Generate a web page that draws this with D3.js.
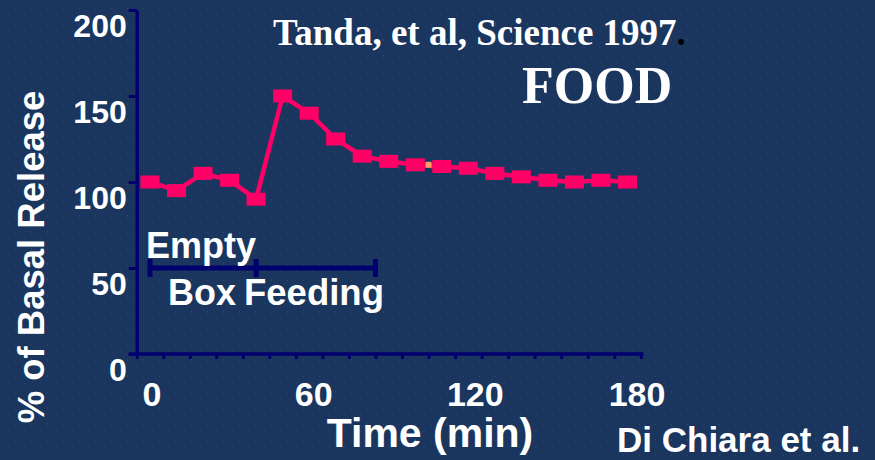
<!DOCTYPE html>
<meta charset="utf-8">
<head>
	<title>Tanda FOOD</title>
	<script src="https://cdnjs.cloudflare.com/ajax/libs/d3/7.8.5/d3.min.js"></script>
</head>
<style type="text/css">
	body { margin: 0; background: #1a365e; }
	svg { display: block; }
	.lbl { font-family: "Liberation Sans", Arial, sans-serif; font-weight: bold; fill: #fff; }
	.ser { font-family: "Liberation Serif", "Times New Roman", serif; font-weight: bold; fill: #fff; }
</style>
<body>
<script>
	// data (minutes, % of basal release)
	var times = [0, 10, 20, 30, 40, 50, 60, 70, 80, 90, 100, 110, 120, 130, 140, 150, 160, 170, 180];
	var release = [100, 95, 105, 101, 90, 150, 140, 125, 115, 112, 110, 109, 108, 105, 103, 101, 100, 101, 100];
	var yTicks = [0, 50, 100, 150, 200];
	var xLabels = [0, 60, 120, 180];
	var xMinor = d3.range(-5, 186, 10);
	// bracket under curve: empty box 0-40, feeding 40-85
	var bracketStops = [0, 40, 85];
	var bracketLevel = 50;
	// stray orange mark on the slide
	var strayPoint = [{t: 105, v: 110}];

	var width = 875, height = 460;
	var axisCol = "#00006e", pink = "#ff0066";

	var svg = d3.select("body").append("svg")
		.attr("width", width)
		.attr("height", height);

	// dotted slide background
	var pat = svg.append("defs").append("pattern")
		.attr("id", "dots")
		.attr("patternUnits", "userSpaceOnUse")
		.attr("width", 16).attr("height", 16);
	pat.append("rect").attr("width", 16).attr("height", 16).attr("fill", "#1a365e");
	pat.append("rect").attr("x", 15).attr("y", 7).attr("width", 2).attr("height", 2).attr("fill", "#27497a");
	pat.append("rect").attr("x", 7).attr("y", 15).attr("width", 2).attr("height", 2).attr("fill", "#223f6c");
	svg.append("rect").attr("width", width).attr("height", height).attr("fill", "url(#dots)");

	var x = d3.scaleLinear().domain([0, 180]).range([150, 627.5]);
	var xl = d3.scaleLinear().domain([0, 180]).range([152, 637]);   // label positions on slide
	var y = d3.scaleLinear().domain([0, 200]).range([354, 10]);

	// y axis
	var yAxis = svg.append("g")
		.attr("transform", "translate(" + x(-5) + ",0)")
		.call(d3.axisLeft(y).tickValues(yTicks).tickSize(8).tickSizeOuter(0).tickPadding(2));
	yAxis.select(".domain").attr("stroke", axisCol).attr("stroke-width", 3.5);
	yAxis.selectAll(".tick line").attr("stroke", axisCol).attr("stroke-width", 3);
	yAxis.selectAll("text")
		.attr("class", "lbl")
		.attr("y", 16)
		.style("font-size", "32px");

	// x axis
	var xAxis = svg.append("g")
		.attr("transform", "translate(0," + y(0) + ")")
		.call(d3.axisBottom(x).tickValues(xMinor).tickSize(5).tickFormat(""));
	xAxis.select(".domain").remove();
	xAxis.selectAll(".tick line").attr("stroke", axisCol).attr("stroke-width", 3);
	xAxis.append("line")
		.attr("x1", x(-8)).attr("x2", x(186))
		.attr("stroke", axisCol).attr("stroke-width", 3.5);

	svg.append("g").selectAll("text")
		.data(xLabels)
	 .enter().append("text")
		.attr("class", "lbl")
		.attr("x", function(d) { return xl(d); })
		.attr("y", 406)
		.attr("text-anchor", "middle")
		.style("font-size", "34px")
		.text(function(d) { return d; });

	// axis titles
	svg.append("text")
		.attr("class", "lbl")
		.attr("transform", "translate(44,257) rotate(-90)")
		.attr("text-anchor", "middle")
		.style("font-size", "36.5px")
		.text("% of Basal Release");

	svg.append("text")
		.attr("class", "lbl")
		.attr("x", 430).attr("y", 447)
		.attr("text-anchor", "middle")
		.style("font-size", "41px")
		.text("Time (min)");

	// bracket
	var br = svg.append("g").attr("stroke", axisCol).attr("stroke-width", 5);
	br.append("line")
		.attr("x1", x(bracketStops[0])).attr("x2", x(bracketStops[bracketStops.length - 1]))
		.attr("y1", y(bracketLevel)).attr("y2", y(bracketLevel));
	br.selectAll(".cap")
		.data(bracketStops)
	 .enter().append("line")
		.attr("class", "cap")
		.attr("x1", function(d) { return x(d); })
		.attr("x2", function(d) { return x(d); })
		.attr("y1", y(bracketLevel) - 9)
		.attr("y2", y(bracketLevel) + 9);

	svg.append("text").attr("class", "lbl").attr("x", 146).attr("y", 258)
		.style("font-size", "36px").text("Empty");
	svg.append("text").attr("class", "lbl").attr("x", 168).attr("y", 305)
		.style("font-size", "36px").text("Box");
	svg.append("text").attr("class", "lbl").attr("x", 244).attr("y", 305)
		.style("font-size", "36.5px").text("Feeding");

	// series
	var pts = times.map(function(t, i) { return {t: t, v: release[i]}; });

	svg.append("path")
		.datum(pts)
		.attr("fill", "none")
		.attr("stroke", pink)
		.attr("stroke-width", 4.5)
		.attr("d", d3.line()
			.x(function(d) { return x(d.t); })
			.y(function(d) { return y(d.v); }));

	svg.selectAll(".stray")
		.data(strayPoint)
	 .enter().append("rect")
		.attr("class", "stray")
		.attr("x", function(d) { return x(d.t) - 3; })
		.attr("y", function(d) { return y(d.v) - 3; })
		.attr("width", 6).attr("height", 6)
		.attr("fill", "#ff9966");

	svg.selectAll(".pt")
		.data(pts)
	 .enter().append("rect")
		.attr("class", "pt")
		.attr("x", function(d) { return x(d.t) - 9.5; })
		.attr("y", function(d) { return y(d.v) - 6.5; })
		.attr("width", 19).attr("height", 13)
		.attr("fill", pink);

	// titles
	var cite = svg.append("text").attr("class", "ser")
		.attr("x", 273).attr("y", 45)
		.style("font-size", "37px");
	cite.append("tspan").text("Tanda, et al, Science 1997");
	cite.append("tspan").attr("fill", "#000").text(".");

	svg.append("text").attr("class", "ser")
		.attr("x", 522).attr("y", 103)
		.style("font-size", "52px")
		.text("FOOD");

	svg.append("text").attr("class", "lbl")
		.attr("x", 617).attr("y", 452)
		.style("font-size", "35px")
		.text("Di Chiara et al.");
</script>
</body>
